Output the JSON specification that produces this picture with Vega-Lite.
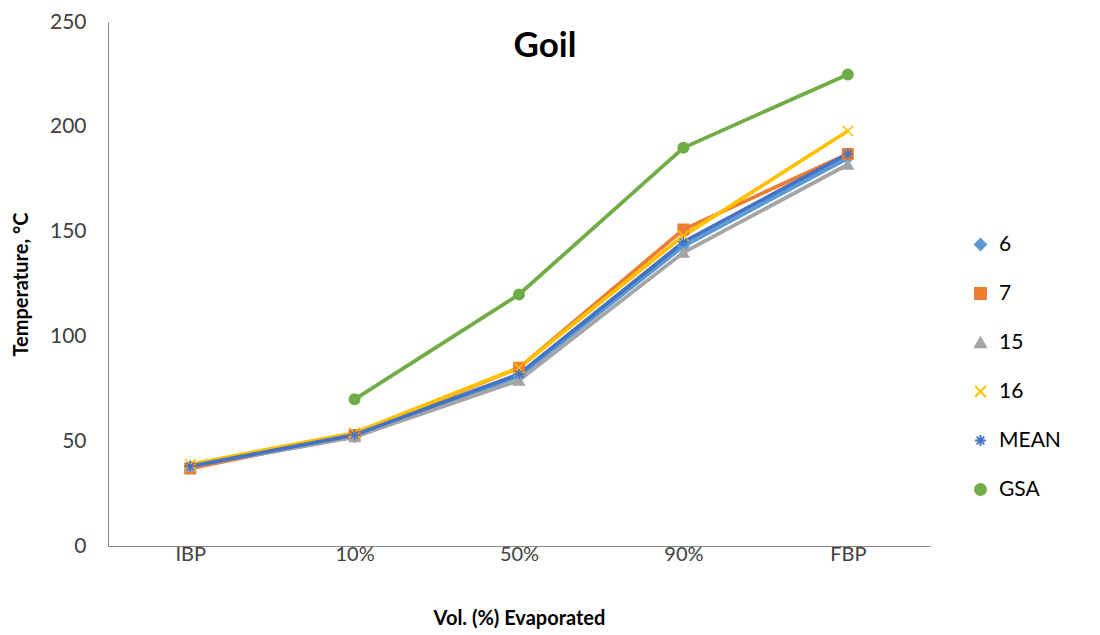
{
  "$schema": "https://vega.github.io/schema/vega-lite/v6.json",
  "autosize": {"type": "none"},
  "width": 822,
  "height": 524,
  "padding": {"left": 108, "top": 22, "right": 170, "bottom": 89},
  "background": "white",
  "config": {"view": {"stroke": null}, "font": "Lato"},
  "title": {"text": "Goil", "fontSize": 35, "fontWeight": "bold", "font": "Lato", "color": "#000000", "anchor": "middle", "dx": 26, "offset": -53},
  "data": {"values": [
    {"series": "6", "stage": "IBP", "temp": 38},
    {"series": "6", "stage": "10%", "temp": 52},
    {"series": "6", "stage": "50%", "temp": 81},
    {"series": "6", "stage": "90%", "temp": 143},
    {"series": "6", "stage": "FBP", "temp": 185},
    {"series": "7", "stage": "IBP", "temp": 37},
    {"series": "7", "stage": "10%", "temp": 53},
    {"series": "7", "stage": "50%", "temp": 85},
    {"series": "7", "stage": "90%", "temp": 151},
    {"series": "7", "stage": "FBP", "temp": 187},
    {"series": "15", "stage": "IBP", "temp": 38},
    {"series": "15", "stage": "10%", "temp": 52},
    {"series": "15", "stage": "50%", "temp": 79},
    {"series": "15", "stage": "90%", "temp": 140},
    {"series": "15", "stage": "FBP", "temp": 182},
    {"series": "16", "stage": "IBP", "temp": 39},
    {"series": "16", "stage": "10%", "temp": 54},
    {"series": "16", "stage": "50%", "temp": 85},
    {"series": "16", "stage": "90%", "temp": 148},
    {"series": "16", "stage": "FBP", "temp": 198},
    {"series": "MEAN", "stage": "IBP", "temp": 38},
    {"series": "MEAN", "stage": "10%", "temp": 53},
    {"series": "MEAN", "stage": "50%", "temp": 82},
    {"series": "MEAN", "stage": "90%", "temp": 145},
    {"series": "MEAN", "stage": "FBP", "temp": 187},
    {"series": "GSA", "stage": "10%", "temp": 70},
    {"series": "GSA", "stage": "50%", "temp": 120},
    {"series": "GSA", "stage": "90%", "temp": 190},
    {"series": "GSA", "stage": "FBP", "temp": 225}
  ]},
  "encoding": {
    "x": {"field": "stage", "type": "nominal", "sort": ["IBP", "10%", "50%", "90%", "FBP"],
      "scale": {"type": "point", "padding": 0.5},
      "axis": {"title": "Vol. (%) Evaporated", "titleFontSize": 20, "titleFontWeight": "bold", "titleColor": "#000000", "titlePadding": 44,
        "labelFontSize": 20, "labelColor": "#404040", "labelPadding": -2, "labelAngle": 0, "ticks": false, "grid": false, "domainColor": "#868686", "domainWidth": 1}},
    "y": {"field": "temp", "type": "quantitative", "scale": {"domain": [0, 250]},
      "axis": {"title": "Temperature, °C", "titleFontSize": 20, "titleFontWeight": "bold", "titleColor": "#000000", "titlePadding": 18,
        "values": [0, 50, 100, 150, 200, 250], "labelFontSize": 21, "labelColor": "#404040", "labelPadding": 22, "ticks": false, "grid": false, "domainColor": "#868686", "domainWidth": 1}},
    "color": {"field": "series", "type": "nominal",
      "scale": {"domain": ["6", "7", "15", "16", "MEAN", "GSA"], "range": ["#5B9BD5", "#ED7D31", "#A5A5A5", "#FFC000", "#4472C4", "#70AD47"]},
      "legend": {"title": null, "orient": "none", "legendX": 862, "legendY": 212, "labelFontSize": 21, "labelColor": "#000000", "rowPadding": 27, "symbolSize": 120, "symbolStrokeWidth": 2, "labelOffset": 8}}
  },
  "layer": [
    {"mark": {"type": "line", "strokeWidth": 3.8}, "encoding": {"detail": {"field": "series"}}},
    {"mark": {"type": "point", "filled": true, "size": 110, "opacity": 1, "strokeWidth": 1.5},
      "encoding": {
        "shape": {"field": "series", "type": "nominal",
          "scale": {"domain": ["6", "7", "15", "16", "MEAN", "GSA"],
            "range": ["diamond", "square", "triangle-up", "M-1,-1L1,1M-1,1L1,-1", "M-1,0L1,0M0,-1L0,1M-0.7,-0.7L0.7,0.7M-0.7,0.7L0.7,-0.7", "circle"]},
          "legend": null},
        "stroke": {"field": "series", "type": "nominal", "scale": {"domain": ["6", "7", "15", "16", "MEAN", "GSA"], "range": ["#5B9BD5", "#ED7D31", "#A5A5A5", "#FFC000", "#4472C4", "#70AD47"]}, "legend": null}
      }}
  ]
}
